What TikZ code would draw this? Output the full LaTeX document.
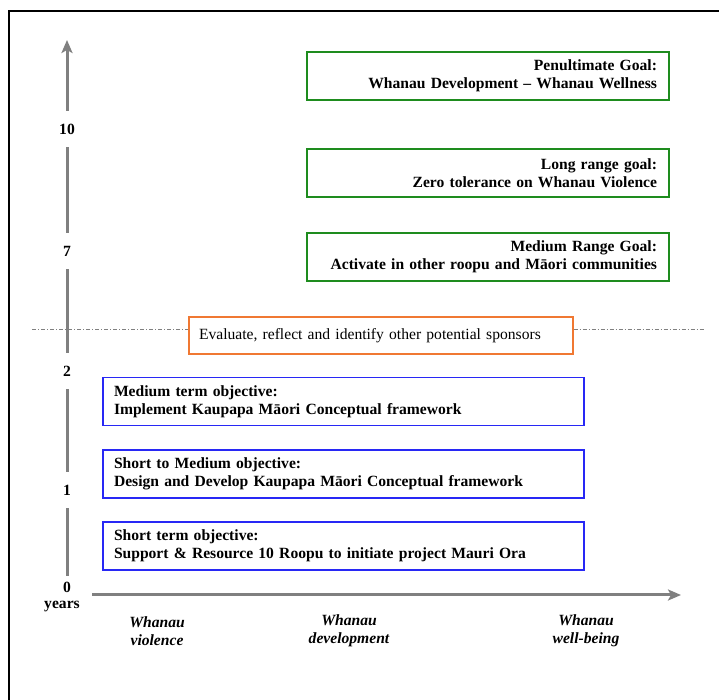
\documentclass[tikz,border=0pt]{standalone}
\usepackage{fontspec}
\setmainfont{Liberation Serif}
\usetikzlibrary{arrows.meta}
\definecolor{goalgreen}{RGB}{30,140,30}
\definecolor{objblue}{RGB}{40,40,245}
\definecolor{evalorange}{RGB}{240,120,50}
\definecolor{axisgray}{RGB}{128,128,128}
\tikzset{
  boxfont/.style={font=\fontsize{15.6}{18}\selectfont\bfseries},
  goalbox/.style={draw=goalgreen, line width=1.2pt, boxfont, minimum width=362pt, minimum height=48pt, text width=338pt, align=right, inner sep=0pt},
  objbox/.style={draw=objblue, line width=1.2pt, boxfont, minimum width=481pt, minimum height=48pt, text width=459pt, align=left, inner sep=0pt},
  evalbox/.style={draw=evalorange, line width=1.2pt, font=\fontsize{15.6}{18}\selectfont, minimum width=384pt, minimum height=37pt, text width=364pt, align=left, inner sep=0pt},
  ticklabel/.style={font=\fontsize{15.6}{16}\selectfont\bfseries, inner sep=0pt, minimum height=36pt},
  axisline/.style={draw=axisgray, line width=3pt},
  axistip/.style={-{Stealth[length=13pt, width=11pt, inset=3pt]}},
  rangelabel/.style={font=\fontsize{15.6}{18}\selectfont\bfseries\itshape, align=center},
  milestone/.style={draw=axisgray, line width=0.8pt, dash pattern=on 4pt off 2pt on 1pt off 2pt}
}
\begin{document}
\begin{tikzpicture}[x=1pt, y=1pt]
\useasboundingbox (0,0) rectangle (719,700);
% frame
\draw[line width=2pt] (9,0) -- (9,689) -- (719,689);

% goals
\node[goalbox] (pen) at (488,624) {Penultimate Goal:\\Whanau Development -- Whanau Wellness};
\node[goalbox] (long) at (488,527) {Long range goal:\\Zero tolerance on Whanau Violence};
\node[goalbox] (med) at (488,443) {Medium Range Goal:\\Activate in other roopu and Māori communities};

% evaluation milestone
\node[evalbox] (eval) at (381,364.5) {Evaluate, reflect and identify other potential sponsors};
\coordinate (mlL) at (32,371);
\coordinate (mlR) at (705,371);
\draw[milestone] (mlL) -- (eval.west |- mlL);
\draw[milestone] (eval.east |- mlR) -- (mlR);

% objectives
\node[objbox] (mto) at (343.5,298.5) {Medium term objective:\\Implement Kaupapa Māori Conceptual framework};
\node[objbox] (smo) at (343.5,226) {Short to Medium objective:\\Design and Develop Kaupapa Māori Conceptual framework};
\node[objbox] (sto) at (343.5,154) {Short term objective:\\Support \& Resource 10 Roopu to initiate project Mauri Ora};

% vertical time axis
\node[ticklabel] (t10) at (67,571) {10};
\node[ticklabel] (t7) at (67,449) {7};
\node[ticklabel] (t2) at (67,329) {2};
\node[ticklabel] (t1) at (67,210) {1};
\node[ticklabel, minimum height=22pt] (t0) at (67,113) {0};
\node[ticklabel, minimum height=0pt] (yrs) at (62,94) {years};
\coordinate (top) at (67,660);
\draw[axisline] (t0) -- (t1);
\draw[axisline] (t1) -- (t2);
\draw[axisline] (t2) -- (t7);
\draw[axisline] (t7) -- (t10);
\draw[axisline, axistip] (t10) -- (top);

% horizontal axis
\coordinate (hs) at (92,105);
\coordinate (he) at (681,105);
\draw[axisline, axistip] (hs) -- (he);

% ranges along the horizontal axis
\node[rangelabel] (viol) at (157,69) {Whanau\\violence};
\node[rangelabel] (dev) at (349,69) {Whanau\\development};
\node[rangelabel] (well) at (586,69) {Whanau\\well-being};
\end{tikzpicture}
\end{document}
